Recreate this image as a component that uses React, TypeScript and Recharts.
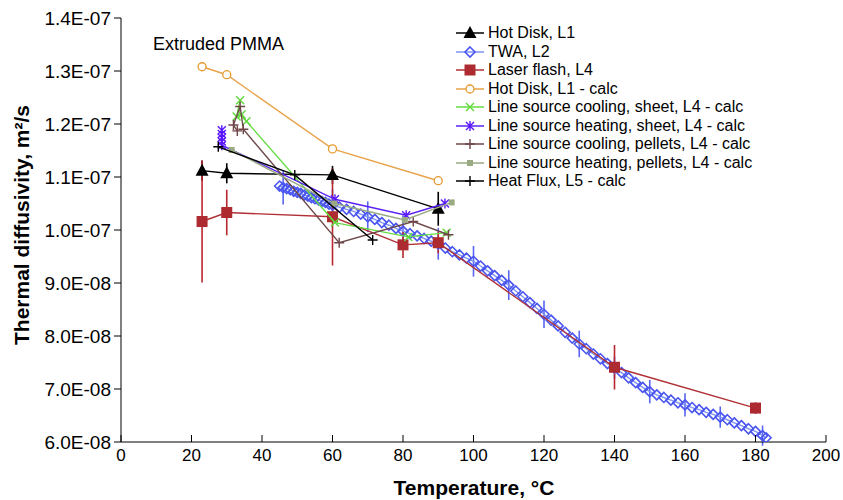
import { ComposedChart, Scatter, XAxis, YAxis, ErrorBar, Legend } from 'recharts';

// values are in units of 1e-7 m²/s
const hotDiskTemp = [23, 30, 60, 90];
const hotDiskValue = [1.112, 1.107, 1.104, 1.04];
const hotDiskErr = [0.019, 0.019, 0.017, 0.032];

const twaTemp = [
  45, 46, 47, 48, 49, 50, 51, 52, 53, 54, 55, 56, 57, 58, 59, 60, 62, 64, 66, 68, 70, 72, 74, 76, 78, 80, 82, 84,
  86, 88, 90, 92, 94, 96, 98, 100, 102, 104, 106, 108, 110, 112, 114, 116, 118, 120, 122, 124, 126, 128, 130,
  132, 134, 136, 138, 140, 142, 144, 146, 148, 150, 152, 154, 156, 158, 160, 162, 164, 166, 168, 170, 172, 174,
  176, 178, 180, 182, 183,
];
const twaValue = [
  1.083, 1.08, 1.078, 1.076, 1.073, 1.071, 1.069, 1.066, 1.064, 1.061, 1.059, 1.057, 1.054, 1.052, 1.049, 1.047,
  1.043, 1.039, 1.035, 1.03, 1.025, 1.02, 1.014, 1.009, 1.003, 0.998, 0.993, 0.989, 0.984, 0.979, 0.974, 0.966,
  0.959, 0.953, 0.947, 0.941, 0.932, 0.923, 0.914, 0.905, 0.896, 0.885, 0.874, 0.863, 0.852, 0.841, 0.83, 0.819,
  0.807, 0.796, 0.785, 0.776, 0.766, 0.757, 0.748, 0.74, 0.731, 0.721, 0.712, 0.703, 0.695, 0.689, 0.684, 0.679,
  0.674, 0.67, 0.665, 0.661, 0.656, 0.652, 0.647, 0.642, 0.636, 0.631, 0.625, 0.62, 0.612, 0.608,
];
const twaErr = [
  0, 0.032, 0, 0, 0, 0, 0, 0, 0, 0, 0, 0, 0, 0, 0, 0.03, 0, 0, 0, 0, 0.029, 0, 0, 0, 0, 0.03, 0, 0, 0, 0, 0.03, 0,
  0, 0, 0, 0.029, 0, 0, 0, 0, 0.028, 0, 0, 0, 0, 0.026, 0, 0, 0, 0, 0.025, 0, 0, 0, 0, 0.021, 0, 0, 0, 0, 0.022,
  0, 0, 0, 0, 0.022, 0, 0, 0, 0, 0.02, 0, 0, 0, 0, 0, 0.019, 0,
];

const laserTemp = [23, 30, 60, 80, 90, 140, 180];
const laserValue = [1.016, 1.033, 1.025, 0.972, 0.976, 0.741, 0.664];
const laserErr = [0.115, 0.043, 0.092, 0.025, 0.02, 0.042, 0.011];

const hotDiskCalcTemp = [23, 30, 60, 90];
const hotDiskCalcValue = [1.308, 1.293, 1.153, 1.093];

const coolSheetTemp = [33.8, 32.8, 34.2, 35.6, 60.7, 81.5, 92.4];
const coolSheetValue = [1.245, 1.214, 1.218, 1.205, 1.014, 0.987, 0.995];

const heatSheetTemp = [28.6, 28.6, 28.6, 28.6, 28.6, 60.7, 80.9, 91.9];
const heatSheetValue = [1.188, 1.181, 1.174, 1.167, 1.16, 1.058, 1.028, 1.05];

const coolPelletTemp = [33.0, 31.9, 33.8, 34.7, 61.9, 82.9, 92.9];
const coolPelletValue = [1.187, 1.198, 1.233, 1.19, 0.976, 1.016, 0.991];

const heatPelletTemp = [31.4, 60.5, 80.5, 93.8];
const heatPelletValue = [1.151, 1.05, 1.019, 1.052];

const heatFluxTemp = [27.6, 49.3, 71.4];
const heatFluxValue = [1.157, 1.104, 0.981];

const xTicks = [0, 20, 40, 60, 80, 100, 120, 140, 160, 180, 200];
const yTicks = [0.6, 0.7, 0.8, 0.9, 1.0, 1.1, 1.2, 1.3, 1.4];

const FONT = '"Liberation Sans", Arial, sans-serif';

const zip = (xs: number[], ys: number[], es?: number[]) =>
  xs.map((x, i) => ({ x, y: ys[i], err: es ? es[i] : 0 }));

const fmtY = (v: number) => {
  const [m, e] = (v * 1e-7).toExponential(1).split('e');
  const n = Math.abs(Number(e));
  return `${m}E-${String(n).padStart(2, '0')}`;
};

type Kind = 'triangle' | 'diamond' | 'square' | 'circle' | 'x' | 'star' | 'plus' | 'small';

const marker = (kind: Kind, color: string, cx: number, cy: number) => {
  switch (kind) {
    case 'triangle':
      return <path d={`M${cx},${cy - 7} L${cx + 6.5},${cy + 5} L${cx - 6.5},${cy + 5} Z`} fill={color} />;
    case 'diamond':
      return (
        <path
          d={`M${cx},${cy - 5} L${cx + 5},${cy} L${cx},${cy + 5} L${cx - 5},${cy} Z`}
          fill="none"
          stroke={color}
          strokeWidth={1.6}
        />
      );
    case 'square':
      return <rect x={cx - 5.5} y={cy - 5.5} width={11} height={11} fill={color} />;
    case 'circle':
      return <circle cx={cx} cy={cy} r={4} fill="#fff" stroke={color} strokeWidth={1.3} />;
    case 'x':
      return (
        <path
          d={`M${cx - 4},${cy - 4} L${cx + 4},${cy + 4} M${cx - 4},${cy + 4} L${cx + 4},${cy - 4}`}
          stroke={color}
          strokeWidth={1.4}
        />
      );
    case 'star':
      return (
        <path
          d={`M${cx - 4},${cy - 4} L${cx + 4},${cy + 4} M${cx - 4},${cy + 4} L${cx + 4},${cy - 4} M${cx},${cy - 5} L${cx},${cy + 5}`}
          stroke={color}
          strokeWidth={1.4}
        />
      );
    case 'plus':
      return (
        <path
          d={`M${cx - 5},${cy} L${cx + 5},${cy} M${cx},${cy - 5} L${cx},${cy + 5}`}
          stroke={color}
          strokeWidth={1.4}
        />
      );
    case 'small':
      return <rect x={cx - 3} y={cy - 3} width={6} height={6} fill={color} />;
  }
};

const shape = (kind: Kind, color: string) => (p: any) => <g>{marker(kind, color, p.cx, p.cy)}</g>;

const series = [
  { name: 'Hot Disk, L1', kind: 'triangle' as Kind, color: '#000000', line: '#000000', data: zip(hotDiskTemp, hotDiskValue, hotDiskErr), err: '#000000' },
  { name: 'TWA, L2', kind: 'diamond' as Kind, color: '#4a55f0', line: '#7f95f0', data: zip(twaTemp, twaValue, twaErr), err: '#5866f2' },
  { name: 'Laser flash, L4', kind: 'square' as Kind, color: '#ad2a30', line: '#b03036', data: zip(laserTemp, laserValue, laserErr), err: '#b8262e' },
  { name: 'Hot Disk, L1 - calc', kind: 'circle' as Kind, color: '#e8992f', line: '#e8a24a', data: zip(hotDiskCalcTemp, hotDiskCalcValue) },
  { name: 'Line source cooling, sheet, L4 - calc', kind: 'x' as Kind, color: '#5fd83a', line: '#66dd44', data: zip(coolSheetTemp, coolSheetValue) },
  { name: 'Line source heating, sheet, L4 - calc', kind: 'star' as Kind, color: '#5a16ff', line: '#5a22f5', data: zip(heatSheetTemp, heatSheetValue) },
  { name: 'Line source cooling, pellets, L4 - calc', kind: 'plus' as Kind, color: '#6e4446', line: '#6e4a4a', data: zip(coolPelletTemp, coolPelletValue) },
  { name: 'Line source heating, pellets, L4 - calc', kind: 'small' as Kind, color: '#9aaa82', line: '#9aaa82', data: zip(heatPelletTemp, heatPelletValue) },
  { name: 'Heat Flux, L5 - calc', kind: 'plus' as Kind, color: '#000000', line: '#000000', data: zip(heatFluxTemp, heatFluxValue) },
];

const XTick = (p: any) => (
  <g>
    <line x1={p.x} x2={p.x} y1={p.y} y2={p.y - 7} stroke="#000" />
    <text x={p.x} y={p.y + 19} textAnchor="middle" fontSize={17} fill="#000" fontFamily={FONT}>
      {p.payload.value}
    </text>
  </g>
);

const LegendBox = () => (
  <div style={{ fontFamily: FONT, fontSize: 16, color: '#000', lineHeight: '18.5px' }}>
    {series.map((s) => (
      <div key={s.name} style={{ display: 'flex', alignItems: 'center', whiteSpace: 'nowrap', height: 18.5 }}>
        <svg width={30} height={14} style={{ marginRight: 3 }}>
          <line x1={1} x2={29} y1={7} y2={7} stroke={s.line} strokeWidth={1.5} />
          {marker(s.kind, s.color, 15, 7)}
        </svg>
        <span>{s.name}</span>
      </div>
    ))}
  </div>
);

export default function App() {
  return (
    <div style={{ position: 'absolute', left: 0, top: 0, width: 843, height: 500, background: '#fff' }}>
      <ComposedChart width={843} height={500} margin={{ top: 18, right: 17, bottom: 0, left: 0 }}>
        <XAxis
          dataKey="x"
          type="number"
          domain={[0, 200]}
          ticks={xTicks}
          tickSize={0}
          tickMargin={0}
          tick={<XTick />}
          height={58}
          axisLine={{ stroke: '#000' }}
          tickLine={false}
        />
        <XAxis xAxisId="top" orientation="top" type="number" domain={[0, 200]} height={0} tick={false} tickLine={false} axisLine={{ stroke: '#000' }} />
        <YAxis
          dataKey="y"
          type="number"
          domain={[0.6, 1.4]}
          ticks={yTicks}
          tickFormatter={fmtY}
          width={121}
          tickSize={7}
          tickMargin={3}
          tick={{ fontSize: 19, fill: '#000', fontFamily: FONT }}
          axisLine={{ stroke: '#000' }}
          tickLine={{ stroke: '#000' }}
          allowDataOverflow
        />
        <YAxis yAxisId="right" orientation="right" type="number" domain={[0.6, 1.4]} width={0} tick={false} tickLine={false} axisLine={{ stroke: '#444', strokeWidth: 2 }} />
        {series.map((s) => (
          <Scatter
            key={s.name}
            name={s.name}
            data={s.data}
            line={{ stroke: s.line, strokeWidth: 1.4 }}
            lineType="joint"
            shape={shape(s.kind, s.color)}
            isAnimationActive={false}
          >
            {s.err && <ErrorBar dataKey="err" direction="y" width={0} stroke={s.err} strokeWidth={1.6} />}
          </Scatter>
        ))}
        <Legend
          layout="vertical"
          align="center"
          verticalAlign="middle"
          content={<LegendBox />}
          wrapperStyle={{ left: 455, top: 24, width: 340, height: 'auto' }}
        />
        <text x={153} y={50} fontSize={18} fontFamily={FONT} fill="#000">
          Extruded PMMA
        </text>
        <text x={474} y={495} textAnchor="middle" fontSize={21} fontWeight="bold" fontFamily={FONT} fill="#000">
          Temperature, °C
        </text>
        <text
          transform="translate(29,225) rotate(-90)"
          textAnchor="middle"
          fontSize={21}
          fontWeight="bold"
          fontFamily={FONT}
          fill="#000"
        >
          Thermal diffusivity, m²/s
        </text>
      </ComposedChart>
    </div>
  );
}
